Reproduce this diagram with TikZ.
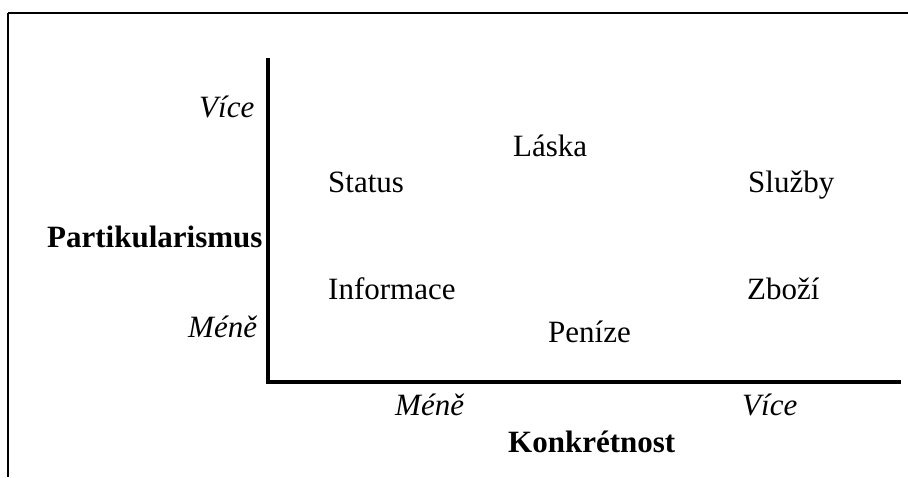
\documentclass[tikz,border=0pt]{standalone}
\usepackage{fontspec}
\setmainfont{Liberation Serif}
\begin{document}
\begin{tikzpicture}[x=1pt,y=-1pt,
  lbl/.style={anchor=base west,inner sep=0pt,font=\fontsize{31}{36}\selectfont},
  ital/.style={lbl,font=\fontsize{31}{36}\selectfont\itshape},
  bld/.style={lbl,font=\fontsize{31}{36}\selectfont\bfseries},
  axis/.style={line width=3.6pt},
  frame/.style={line width=1.5pt}]
\useasboundingbox (0,0) rectangle (908,477);
% frame
\coordinate (fbl) at (8,477);
\coordinate (ftl) at (8,13);
\coordinate (ftr) at (908,13);
\draw[frame] (fbl) -- (ftl);
\draw[line width=2.6pt] (ftl) -- (ftr);
% axes
\coordinate (ytop) at (268,58);
\coordinate (orig) at (268,382);
\coordinate (xend) at (901,382);
\draw[axis,line join=miter] (ytop) -- (orig) -- (xend);
% labels
\node[ital] (yvice) at (199,117) {Více};
\node[ital] (ymene) at (188,337) {Méně};
\node[bld] (ylab) at (47,247) {Partikularismus};
\node[ital] (xmene) at (395,415) {Méně};
\node[ital] (xvice) at (742,415) {Více};
\node[bld] (xlab) at (508,452) {Konkrétnost};
\node[lbl] (laska) at (513,156) {Láska};
\node[lbl] (status) at (328,192) {Status};
\node[lbl] (sluzby) at (748,192) {Služby};
\node[lbl] (info) at (328,299) {Informace};
\node[lbl] (zbozi) at (747,299) {Zboží};
\node[lbl] (penize) at (548,342) {Peníze};
\end{tikzpicture}
\end{document}
